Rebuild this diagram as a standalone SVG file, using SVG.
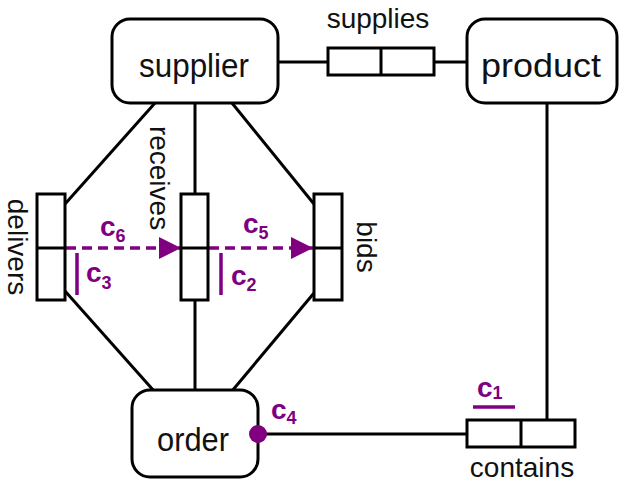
<svg xmlns="http://www.w3.org/2000/svg" width="623" height="485" viewBox="0 0 623 485">
  <defs>
    <style>
      .node { fill: #ffffff; stroke: #000000; stroke-width: 3; }
      .rel { fill: #ffffff; stroke: #000000; stroke-width: 3; }
      .line { fill: none; stroke: #000000; stroke-width: 3; }
      .big { font-family: "Liberation Sans", Arial, sans-serif; font-size: 33px; fill: #111111; text-anchor: middle; }
      .lbl { font-family: "Liberation Sans", Arial, sans-serif; font-size: 28px; fill: #111111; text-anchor: middle; }
      .c { font-family: "Liberation Sans", Arial, sans-serif; font-weight: bold; font-size: 28px; fill: #800080; }
      .sub { font-size: 18px; }
      .purple { fill: none; stroke: #800080; stroke-width: 3.5; }
      .dash { fill: none; stroke: #800080; stroke-width: 3.5; stroke-dasharray: 10 6; }
    </style>
    <marker id="arrow" markerWidth="22" markerHeight="22" refX="22" refY="11" orient="auto" markerUnits="userSpaceOnUse">
      <path d="M0,0 L22,11 L0,22 Z" fill="#800080"/>
    </marker>
  </defs>
  <rect width="623" height="485" fill="#ffffff"/>

  <g id="connectors">
    <line class="line" x1="278" y1="62" x2="328" y2="62"/>
    <line class="line" x1="434" y1="62" x2="467" y2="62"/>
    <line class="line" x1="547" y1="103" x2="547" y2="420"/>
    <line class="line" x1="258" y1="434" x2="467" y2="434"/>
    <line class="line" x1="155" y1="103" x2="65" y2="204"/>
    <line class="line" x1="65" y1="291" x2="154" y2="391"/>
    <line class="line" x1="195" y1="103" x2="195" y2="194"/>
    <line class="line" x1="195" y1="300" x2="195" y2="390"/>
    <line class="line" x1="232" y1="103" x2="314" y2="204"/>
    <line class="line" x1="314" y1="293" x2="232" y2="391"/>
    <line class="dash" x1="66" y1="248" x2="181" y2="248" marker-end="url(#arrow)"/>
    <line class="dash" x1="209" y1="248" x2="313" y2="248" marker-end="url(#arrow)"/>
  </g>

  <g id="supplier">
    <rect class="node" x="112" y="19" width="166" height="84" rx="18"/>
    <text class="big" x="194" y="77" textLength="110" lengthAdjust="spacingAndGlyphs">supplier</text>
  </g>
  <g id="product">
    <rect class="node" x="467" y="19" width="150" height="84" rx="18"/>
    <text class="big" x="541" y="77" textLength="120" lengthAdjust="spacingAndGlyphs">product</text>
  </g>
  <g id="order">
    <rect class="node" x="132" y="390" width="126" height="87" rx="18"/>
    <text class="big" x="193" y="451" textLength="72" lengthAdjust="spacingAndGlyphs">order</text>
  </g>

  <g id="supplies">
    <rect class="rel" x="328" y="48" width="106" height="27"/>
    <line class="line" x1="381" y1="48" x2="381" y2="75"/>
    <text class="lbl" x="378" y="28">supplies</text>
  </g>
  <g id="contains">
    <rect class="rel" x="467" y="420" width="108" height="27"/>
    <line class="line" x1="521" y1="420" x2="521" y2="447"/>
    <text class="lbl" x="522" y="477">contains</text>
  </g>
  <g id="delivers">
    <rect class="rel" x="37" y="194" width="28" height="106"/>
    <line class="line" x1="37" y1="248" x2="65" y2="248"/>
    <text class="lbl" transform="translate(8,247) rotate(90)" x="0" y="0">delivers</text>
  </g>
  <g id="receives">
    <rect class="rel" x="181" y="194" width="27" height="106"/>
    <line class="line" x1="181" y1="248" x2="208" y2="248"/>
    <text class="lbl" transform="translate(150,178) rotate(90)" x="0" y="0">receives</text>
  </g>
  <g id="bids">
    <rect class="rel" x="314" y="194" width="28" height="106"/>
    <line class="line" x1="314" y1="248" x2="342" y2="248"/>
    <text class="lbl" transform="translate(357,247) rotate(90)" x="0" y="0">bids</text>
  </g>

  <g id="constraints">
    <circle cx="258" cy="434" r="9" fill="#800080"/>
    <text class="c" x="100" y="236">c<tspan class="sub" dy="6">6</tspan></text>
    <text class="c" x="243" y="233">c<tspan class="sub" dy="6">5</tspan></text>
    <line class="purple" x1="77" y1="253" x2="77" y2="295"/>
    <text class="c" x="86" y="282">c<tspan class="sub" dy="7">3</tspan></text>
    <line class="purple" x1="221" y1="253" x2="221" y2="295"/>
    <text class="c" x="231" y="285">c<tspan class="sub" dy="6">2</tspan></text>
    <text class="c" x="271" y="419">c<tspan class="sub" dy="5">4</tspan></text>
    <text class="c" x="477" y="397">c<tspan class="sub" dy="2">1</tspan></text>
    <line class="purple" x1="473" y1="407" x2="515" y2="407"/>
  </g>
</svg>
